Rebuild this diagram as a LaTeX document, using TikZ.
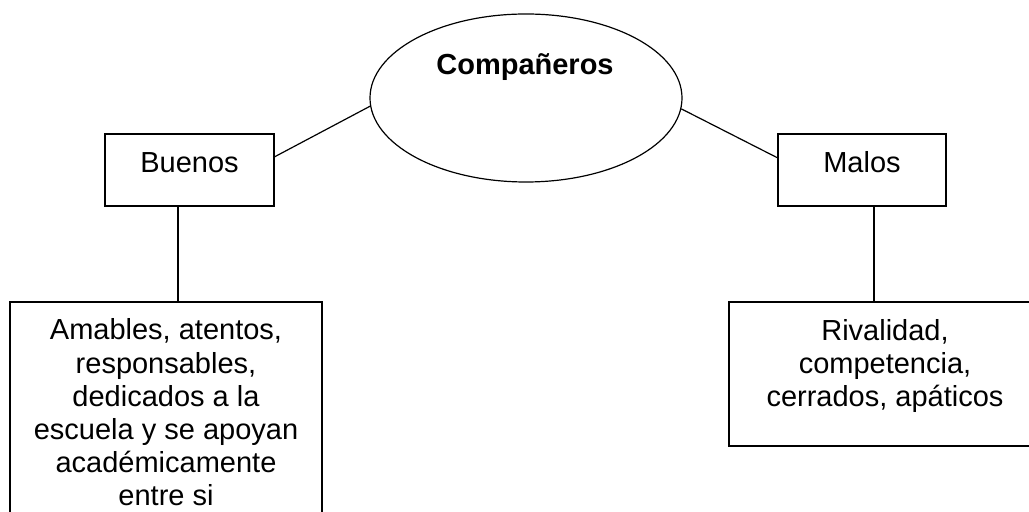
\documentclass[tikz,border=0pt]{standalone}
\usepackage{fontspec}
\setmainfont{Liberation Sans}
\usetikzlibrary{shapes.geometric,calc}
\begin{document}
\begin{tikzpicture}[x=0.5pt,y=-0.5pt, line width=0.6pt,
  frame/.style={draw, rectangle, inner sep=0pt},
  oval/.style={draw, ellipse, inner sep=0pt},
  txt/.style={inner sep=0pt, anchor=base, align=center, font=\fontsize{14.5}{16.6}\selectfont}]
\clip (0,0) rectangle (1029,512);
\fill[white] (0,0) rectangle (1029,512);
% shapes
\node[oval, minimum width=156pt, minimum height=84pt] (e) at (526,98) {};
\node[frame, minimum width=84.5pt, minimum height=36pt] (b) at (189.5,170) {};
\node[frame, minimum width=84pt, minimum height=36pt] (m) at (862,170) {};
\node[frame, minimum width=156pt, minimum height=119pt] (l) at (166,421) {};
\node[frame, minimum width=156pt, minimum height=72pt] (r) at (885,374) {};
% texts (base anchor = baseline of the last line)
\node[txt, font=\fontsize{14.5}{16.6}\selectfont\bfseries] (te) at (525,75) {Compañeros};
\node[txt] (tb) at (189.5,173) {Buenos};
\node[txt] (tm) at (862,173) {Malos};
\node[txt] (tl) at (166,506) {Amables, atentos,\\responsables,\\dedicados a la\\escuela y se apoyan\\académicamente\\entre si};
\node[txt] (tr) at (885,407) {Rivalidad,\\competencia,\\cerrados, apáticos};
% connectors
\draw ($(b.north east)!0.32!(b.south east)$) -- (e.183.7);
\draw (e.-4.4) -- ($(m.north west)!0.333!(m.south west)$);
\draw ([xshift=-5.75pt]b.south) -- ([xshift=-5.75pt]b.south |- l.north);
\draw ([xshift=6pt]m.south) -- ([xshift=6pt]m.south |- r.north);
\end{tikzpicture}
\end{document}
